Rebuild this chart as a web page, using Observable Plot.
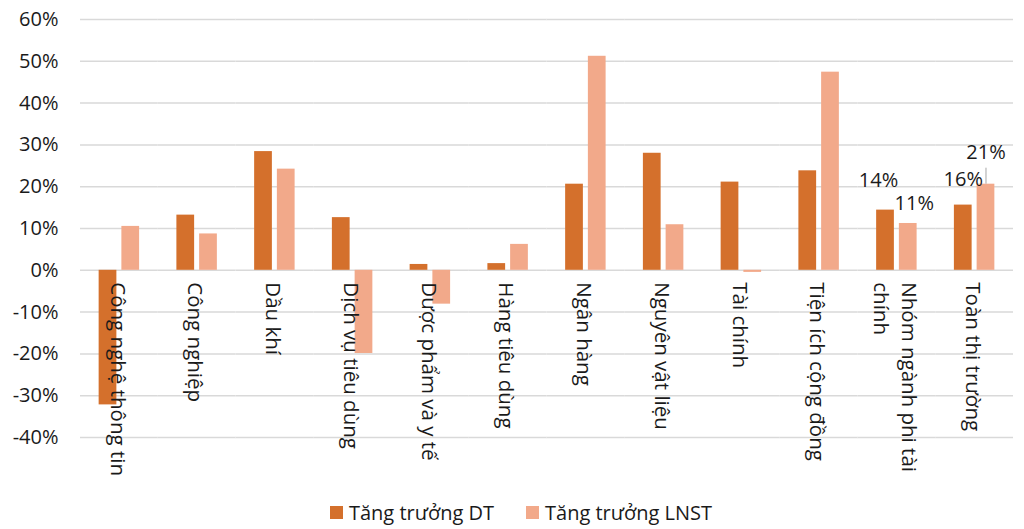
<!DOCTYPE html>
<html><head><meta charset="utf-8">
<script src="https://cdn.jsdelivr.net/npm/d3@7"></script>
<script src="https://cdn.jsdelivr.net/npm/@observablehq/plot@0.6"></script>
<style>
body{margin:0;background:#fff;font-family:"Open Sans",sans-serif;color:#1a1a1a;}
#legend{display:flex;justify-content:center;align-items:center;height:34px;font-size:20px;padding-left:18px;}
.item{display:flex;align-items:center;margin:0 16px;}
.sw{width:13px;height:13px;margin-right:6px;}
</style></head><body><div id="chart"></div><div id="legend"></div>
<script>
const categories = ["Công nghệ thông tin","Công nghiệp","Dầu khí","Dịch vụ tiêu dùng","Dược phẩm và y tế","Hàng tiêu dùng","Ngân hàng","Nguyên vật liệu","Tài chính","Tiện ích cộng đồng","Nhóm ngành phi tài chính","Toàn thị trường"];
const tickLabels = ["Công nghệ thông tin","Công nghiệp","Dầu khí","Dịch vụ tiêu dùng","Dược phẩm và y tế","Hàng tiêu dùng","Ngân hàng","Nguyên vật liệu","Tài chính","Tiện ích cộng đồng","Nhóm ngành phi tài\nchính","Toàn thị trường"];
const series = ["Tăng trưởng DT","Tăng trưởng LNST"];
const growthDT = [-32.2, 13.2, 28.4, 12.6, 1.4, 1.6, 20.6, 28.0, 21.1, 23.8, 14.4, 15.6];
const growthLNST = [10.5, 8.7, 24.2, -19.9, -8.1, 6.2, 51.2, 10.9, -0.5, 47.4, 11.2, 20.6];
const yTicks = [-0.4,-0.3,-0.2,-0.1,0,0.1,0.2,0.3,0.4,0.5,0.6];
const labeledCategories = ["Nhóm ngành phi tài chính","Toàn thị trường"];

const colors = ["#d4702c","#f2a98a"];
const labelOffsets = [[-7,-30],[6,-20],[0,-25],[0,-32]];

const rows = [];
categories.forEach((c,i)=>{
  rows.push({category:c, series:series[0], value:growthDT[i]/100});
  rows.push({category:c, series:series[1], value:growthLNST[i]/100});
});
const labelRows = categories.map((c,i)=>({category:c, label:tickLabels[i]}));
const valueLabels = rows.filter(r=>labeledCategories.includes(r.category));
const fmt = v => Math.round(v*100) + "%";

const marks = [
  Plot.ruleY(yTicks, {stroke:"#d9d9d9", strokeWidth:1.5}),
  Plot.barY(rows, {fx:"category", x:"series", y:"value", fill:"series"}),
  Plot.text(labelRows, {fx:"category", y:()=>0, text:"label", rotate:90, textAnchor:"start", dy:12, lineHeight:1.35, fontSize:20.5})
];
valueLabels.forEach((r,i)=>{
  marks.push(Plot.text([r], {fx:"category", x:"series", y:"value", text:d=>fmt(d.value), dx:labelOffsets[i][0], dy:labelOffsets[i][1]}));
});
const lastLabel = valueLabels[valueLabels.length-1];
marks.push(Plot.ruleX([lastLabel], {fx:"category", x:"series", y1:"value", y2:"value", insetTop:-16, insetBottom:0, stroke:"#a6a6a6", strokeWidth:1}));

const chart = Plot.plot({
  width:1024, height:495,
  marginLeft:80, marginRight:11, marginTop:19, marginBottom:58,
  style:{fontSize:"20px", fontFamily:"Open Sans", color:"#1a1a1a", background:"#fff"},
  fx:{domain:categories, padding:0, axis:null, round:false, label:null},
  x:{domain:series, paddingInner:0.22, paddingOuter:0.82, axis:null, round:false},
  y:{domain:[-0.4,0.6], ticks:10, tickFormat:d=>Math.round(d*100)+"%", tickSize:0, tickPadding:22, label:null},
  color:{domain:series, range:colors},
  marks
});
document.getElementById("chart").appendChild(chart);

const legend = document.getElementById("legend");
series.forEach((s,i)=>{
  const it = document.createElement("div"); it.className="item";
  const sw = document.createElement("span"); sw.className="sw"; sw.style.background=colors[i];
  const t = document.createElement("span"); t.textContent=s;
  it.appendChild(sw); it.appendChild(t); legend.appendChild(it);
});
</script></body></html>
